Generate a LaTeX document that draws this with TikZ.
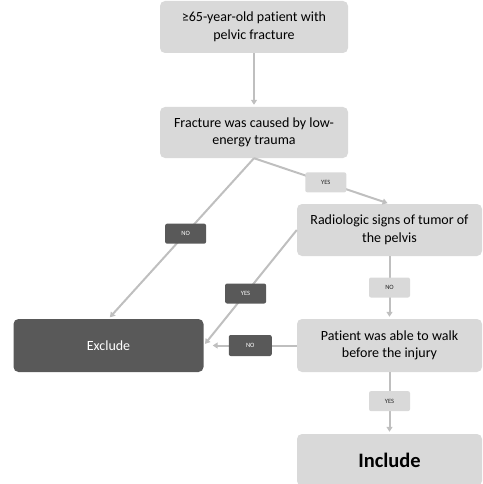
\documentclass[tikz,border=0pt]{standalone}
\usepackage{fontspec}
\setmainfont[Ligatures={NoCommon}]{Carlito}
\usetikzlibrary{arrows.meta}
\definecolor{boxlight}{HTML}{D9D9D9}
\definecolor{boxdark}{HTML}{595959}
\definecolor{linegray}{HTML}{BFBFBF}
\tikzset{
  lightbox/.style={rectangle, rounded corners=5pt, fill=boxlight, draw=none, text=black, align=center, inner sep=2pt, font=\fontsize{14}{17.5}\selectfont},
  darkbox/.style={rectangle, rounded corners=5pt, fill=boxdark, draw=none, text=white, align=center, inner sep=2pt, font=\fontsize{14}{17.5}\selectfont},
  lightlab/.style={rectangle, rounded corners=2pt, fill=boxlight, text=black!85, minimum width=41pt, minimum height=20pt, inner sep=0pt, font=\fontsize{6.5}{7}\selectfont},
  darklab/.style={rectangle, rounded corners=2pt, fill=boxdark, text=white, minimum width=41pt, minimum height=20pt, inner sep=0pt, font=\fontsize{6.5}{7}\selectfont},
  conn/.style={draw=linegray, line width=2pt, -{Triangle[width=6pt,length=5pt]}, shorten >=2pt},
}
\begin{document}
\begin{tikzpicture}[x=1pt,y=-1pt]
\useasboundingbox (0,0) rectangle (482,484);
\node[lightbox, minimum width=188pt, minimum height=52pt] (start) at (254,27) {≥65-year-old patient with\\pelvic fracture};
\node[lightbox, minimum width=188pt, minimum height=51pt] (low) at (254,132.5) {Fracture was caused by low-\\energy trauma};
\node[lightbox, minimum width=185pt, minimum height=52pt] (tumor) at (389.5,230) {Radiologic signs of tumor of\\the pelvis};
\node[lightbox, minimum width=185pt, minimum height=53pt] (walk) at (389.5,345.5) {Patient was able to walk\\before the injury};
\node[lightbox, minimum width=185pt, minimum height=52pt, font=\fontsize{20.5}{22}\selectfont\bfseries] (incl) at (389.5,460) {Include};
\node[darkbox, minimum width=190pt, minimum height=53pt] (excl) at (108.5,345.5) {Exclude};

\draw[conn] (start.south) -- (low.north);
\draw[conn] (low.south) -- node[darklab, pos=0.47] (l1) {NO} (excl.north);
\draw[conn] (low.south) -- node[lightlab, pos=0.53] (l2) {YES} (tumor.north);
\draw[conn] (tumor.west) -- node[darklab, pos=0.55] (l3) {YES} (excl.east);
\draw[conn] (tumor.south) -- node[lightlab] (l4) {NO} (walk.north);
\draw[conn, shorten >=9pt] (walk.west) -- node[darklab, minimum width=43pt, minimum height=21pt] (l5) {NO} (excl.east);
\draw[conn] (walk.south) -- node[lightlab, pos=0.47] (l6) {YES} (incl.north);
\end{tikzpicture}
\end{document}
